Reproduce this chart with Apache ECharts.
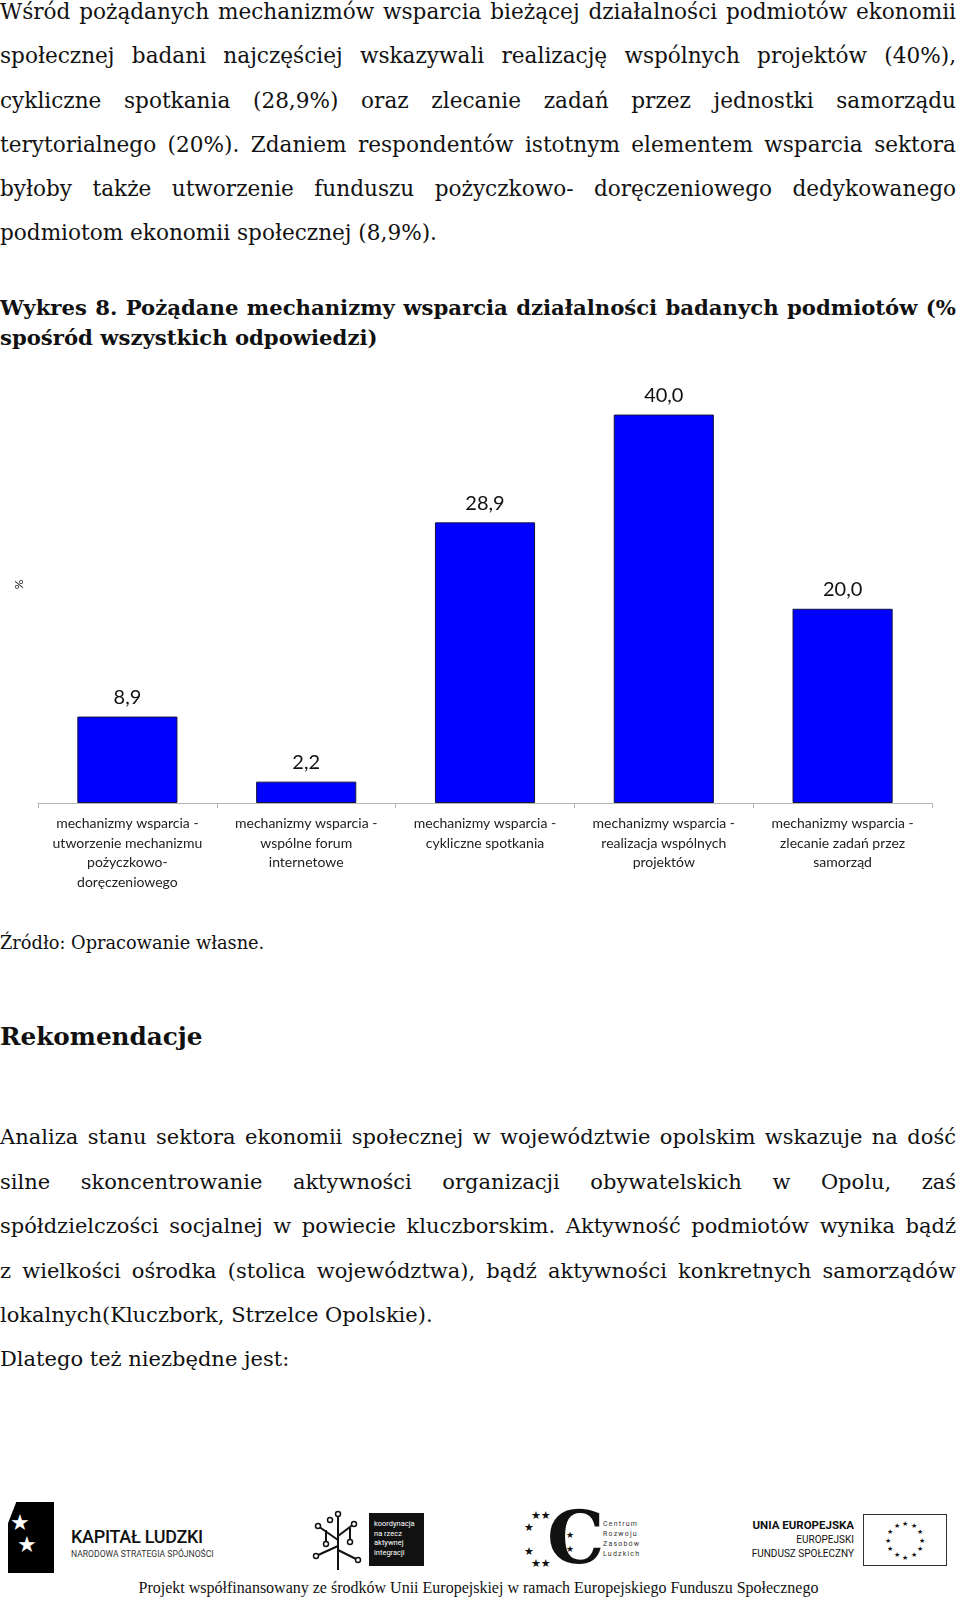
<!DOCTYPE html>
<html lang="pl">
<head>
<meta charset="utf-8">
<script src="https://cdn.jsdelivr.net/npm/echarts@6/dist/echarts.min.js"></script>
<style>
  html, body { margin: 0; padding: 0; background: #fff; }
  body { width: 960px; height: 1600px; position: relative; overflow: hidden; color: #111; }
  .blk { position: absolute; left: 0; width: 956px; }
  .serif { font-family: "DejaVu Serif", "Liberation Serif", serif; }
  .line { display: block; }
  .j { text-align: justify; text-align-last: justify; }
  .l { text-align: left; }
  #chart { position: absolute; left: 0; top: 360px; width: 960px; height: 540px; }
  .abs { position: absolute; }
</style>
</head>
<body>

<div class="blk serif" id="p1" style="top:-10px; font-size:21.6px; line-height:44.3px;">
  <div class="line j">Wśród pożądanych mechanizmów wsparcia bieżącej działalności podmiotów ekonomii</div>
  <div class="line j">społecznej badani najczęściej wskazywali realizację wspólnych projektów (40%),</div>
  <div class="line j">cykliczne spotkania (28,9%) oraz zlecanie zadań przez jednostki samorządu</div>
  <div class="line j">terytorialnego (20%). Zdaniem respondentów istotnym elementem wsparcia sektora</div>
  <div class="line j">byłoby także utworzenie funduszu pożyczkowo- doręczeniowego dedykowanego</div>
  <div class="line l">podmiotom ekonomii społecznej (8,9%).</div>
</div>

<div class="blk serif" id="h1" style="top:293px; font-size:21.2px; line-height:30px; font-weight:bold;">
  <div class="line j">Wykres 8. Pożądane mechanizmy wsparcia działalności badanych podmiotów (%</div>
  <div class="line l">spośród wszystkich odpowiedzi)</div>
</div>

<div id="chart"></div>

<div class="blk serif" style="top:930px; font-size:17.8px; line-height:26px;">Źródło: Opracowanie własne.</div>

<div class="blk serif" style="top:1019px; font-size:24.7px; line-height:36px; font-weight:bold;">Rekomendacje</div>

<div class="blk serif" id="p2" style="top:1115px; font-size:21px; line-height:44.6px;">
  <div class="line j">Analiza stanu sektora ekonomii społecznej w województwie opolskim wskazuje na dość</div>
  <div class="line j">silne skoncentrowanie aktywności organizacji obywatelskich w Opolu, zaś</div>
  <div class="line j">spółdzielczości socjalnej w powiecie kluczborskim. Aktywność podmiotów wynika bądź</div>
  <div class="line j">z wielkości ośrodka (stolica województwa), bądź aktywności konkretnych samorządów</div>
  <div class="line l">lokalnych(Kluczbork, Strzelce Opolskie).</div>
  <div class="line l" style="line-height:43px;">Dlatego też niezbędne jest:</div>
</div>

<!-- footer logos (simplified) -->
<div class="abs" style="left:8px; top:1502px; width:46px; height:71px; background:#000; clip-path:polygon(18% 0,100% 0,100% 100%,0 100%,0 30%);"></div>
<div class="abs" style="left:10px; top:1512px; color:#fff; font-size:22px; line-height:22px; font-family:'DejaVu Sans';">★<br>&nbsp;★</div>
<div class="abs" style="left:71px; top:1526px; font-family:Roboto, sans-serif; font-weight:500; font-size:18px; color:#111; letter-spacing:-0.3px;">KAPITAŁ LUDZKI</div>
<div class="abs" style="left:71px; top:1549px; font-family:Roboto, sans-serif; font-size:8.6px; color:#333;">NARODOWA STRATEGIA SPÓJNOŚCI</div>

<svg class="abs" style="left:308px; top:1510px;" width="58" height="62" viewBox="0 0 58 62">
  <g stroke="#111" stroke-width="2" fill="none">
    <line x1="30" y1="4" x2="30" y2="60"/>
    <line x1="30" y1="30" x2="10" y2="16"/>
    <line x1="30" y1="36" x2="8" y2="46"/>
    <line x1="30" y1="26" x2="46" y2="14"/>
    <line x1="30" y1="40" x2="50" y2="50"/>
    <line x1="18" y1="20" x2="18" y2="34"/>
    <line x1="42" y1="18" x2="42" y2="32"/>
  </g>
  <g fill="#fff" stroke="#111" stroke-width="1.5">
    <circle cx="30" cy="4" r="2.5"/><circle cx="10" cy="16" r="2.5"/><circle cx="8" cy="46" r="2.5"/>
    <circle cx="46" cy="14" r="2.5"/><circle cx="50" cy="50" r="2.5"/><circle cx="18" cy="34" r="2.5"/>
    <circle cx="42" cy="32" r="2.5"/><circle cx="22" cy="10" r="2.5"/>
  </g>
</svg>
<div class="abs" style="left:369px; top:1513px; width:55px; height:53px; background:#111; color:#fff; font-family:Roboto, sans-serif; font-size:7.5px; line-height:9.5px; padding:6px 0 0 5px; box-sizing:border-box;">koordynacja<br>na rzecz<br>aktywnej<br>integracji</div>

<div class="abs" style="left:524px; top:1510px; font-family:'DejaVu Sans'; font-size:11px; line-height:12px; color:#111;">&nbsp;&nbsp;★★<br>★<br><br>★<br>&nbsp;&nbsp;★★</div>
<div class="abs" style="left:547px; top:1498px; font-family:'DejaVu Serif'; font-weight:bold; font-size:72px; line-height:80px; color:#111;">C</div>
<div class="abs" style="left:566px; top:1528px; font-family:'DejaVu Sans'; font-size:9px; line-height:14px; color:#111;">★<br>★</div>
<div class="abs" style="left:603px; top:1519px; font-family:Roboto, sans-serif; font-size:7px; line-height:10px; letter-spacing:1.2px; color:#333;">Centrum<br>Rozwoju<br>Zasobów<br>Ludzkich</div>

<div class="abs" style="left:740px; top:1518px; width:114px; text-align:right; font-family:Roboto, sans-serif; color:#111;">
  <div style="font-weight:bold; font-size:11.5px; line-height:15px;">UNIA EUROPEJSKA</div>
  <div style="font-size:10px; line-height:14px;">EUROPEJSKI</div>
  <div style="font-size:10px; line-height:14px;">FUNDUSZ SPOŁECZNY</div>
</div>
<div class="abs" style="left:863px; top:1514px; width:84px; height:52px; border:1px solid #333; box-sizing:border-box;">
  <svg width="82" height="50" viewBox="0 0 82 50" id="euflag"></svg>
</div>

<div class="abs" style="left:0; top:1577px; width:957px; text-align:center; font-family:'Liberation Serif', serif; font-size:16px; line-height:22px; color:#111;">Projekt współfinansowany ze środków Unii Europejskiej w ramach Europejskiego Funduszu Społecznego</div>

<script>
// ---- data ----
const categories = [
  "mechanizmy wsparcia -\nutworzenie mechanizmu\npożyczkowo-\ndoręczeniowego",
  "mechanizmy wsparcia -\nwspólne forum\ninternetowe",
  "mechanizmy wsparcia -\ncykliczne spotkania",
  "mechanizmy wsparcia -\nrealizacja wspólnych\nprojektów",
  "mechanizmy wsparcia -\nzlecanie zadań przez\nsamorząd"
];
const values = [8.9, 2.2, 28.9, 40.0, 20.0];
const yAxisName = "%";

// keep each justified text line on a single line (tighten letter spacing if it would wrap)
document.querySelectorAll('.line').forEach(el => {
  const lh = parseFloat(getComputedStyle(el).lineHeight);
  let ls = 0;
  while (el.offsetHeight > lh * 1.5 && ls > -1.5) {
    ls -= 0.05;
    el.style.letterSpacing = ls.toFixed(2) + 'px';
  }
});

// EU flag star ring (decorative)
(function () {
  const svg = document.getElementById('euflag');
  let s = '';
  for (let i = 0; i < 12; i++) {
    const a = i * Math.PI / 6;
    const x = 41 + 17 * Math.cos(a), y = 25 + 17 * Math.sin(a);
    s += '<text x="' + x.toFixed(1) + '" y="' + (y + 2.5).toFixed(1) + '" font-size="7" text-anchor="middle" fill="#111">★</text>';
  }
  svg.innerHTML = s;
})();

const chart = echarts.init(document.getElementById('chart'), null, { renderer: 'canvas' });
chart.setOption({
  backgroundColor: 'transparent',
  animation: false,
  grid: { left: 38, right: 28, top: 6, bottom: 97, containLabel: false },
  xAxis: {
    type: 'category',
    data: categories,
    axisLine: { show: true, lineStyle: { color: '#b5b5b5', width: 1 } },
    axisTick: { show: true, length: 5, lineStyle: { color: '#b5b5b5' } },
    axisLabel: {
      interval: 0, margin: 11, fontSize: 14, lineHeight: 19.5,
      color: '#222', fontFamily: 'Lato, "Open Sans", sans-serif', align: 'center'
    }
  },
  yAxis: {
    type: 'value', min: 0, max: 45,
    axisLine: { show: false }, axisTick: { show: false },
    axisLabel: { show: false }, splitLine: { show: false },
    name: yAxisName, nameLocation: 'middle', nameGap: 13,
    nameTextStyle: { fontSize: 12, color: '#222', fontFamily: 'Lato, sans-serif' }
  },
  series: [{
    type: 'bar',
    data: values,
    barWidth: '56%',
    itemStyle: { color: '#0000FF', borderColor: '#14143c', borderWidth: 1 },
    label: {
      show: true, position: 'top', distance: 9,
      fontSize: 20, color: '#111', fontFamily: 'Lato, "Open Sans", sans-serif',
      formatter: p => p.value.toFixed(1).replace('.', ',')
    }
  }]
});
</script>
</body>
</html>
